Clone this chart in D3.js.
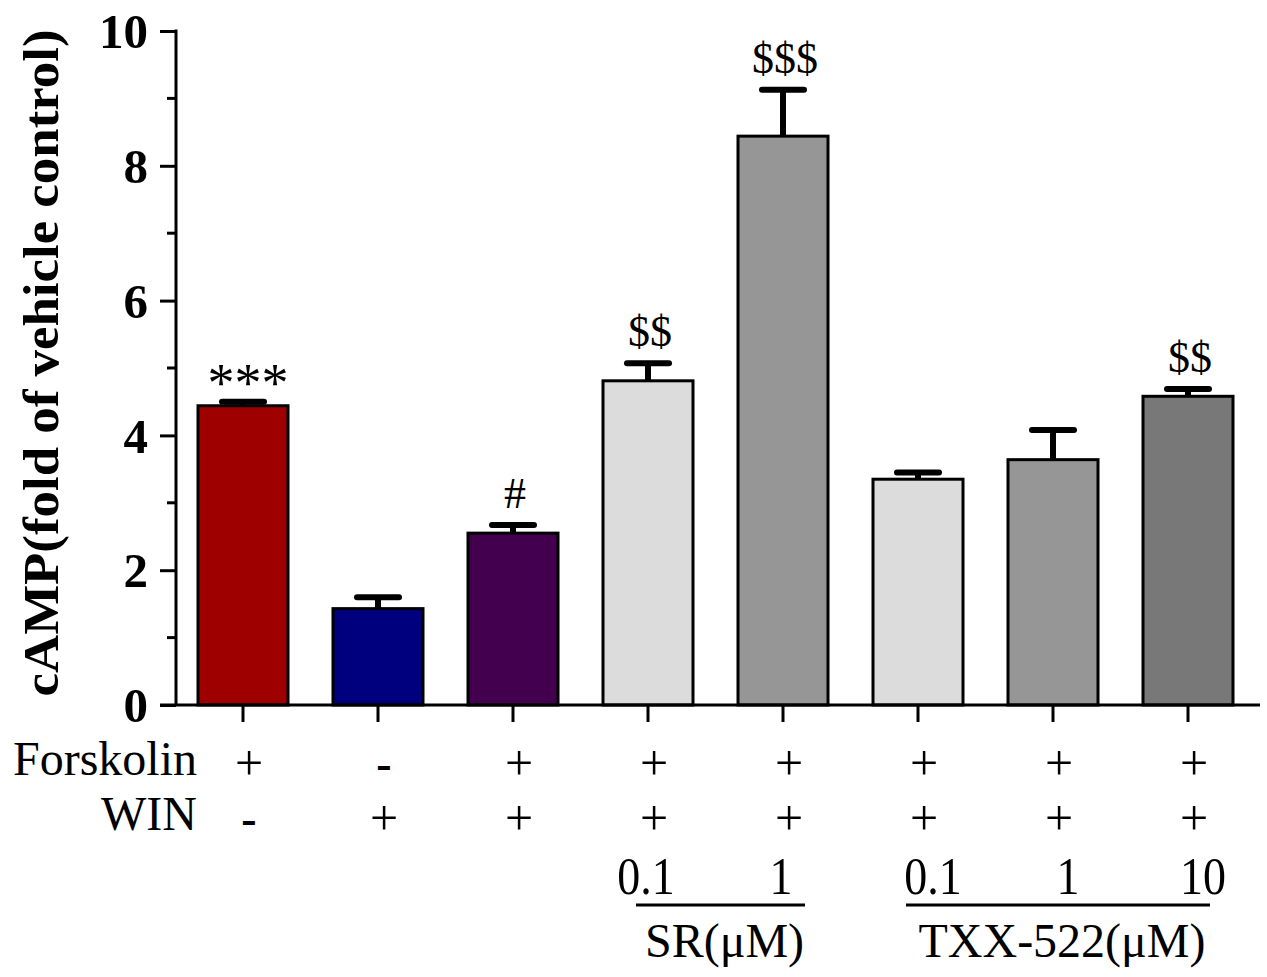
<!DOCTYPE html>
<html>
<head>
<meta charset="utf-8">
<script src="https://cdn.jsdelivr.net/npm/d3@7/dist/d3.min.js"></script>
<style>
html,body{margin:0;padding:0;background:#fff;}
svg{display:block;}
text{font-family:"Liberation Serif","Times New Roman",serif;fill:#000;}
</style>
</head>
<body>
<svg id="chart" width="1267" height="977"></svg>
<script>
// ---- data ----
const categories = ["Forskolin","WIN","Forskolin+WIN","SR 0.1","SR 1","TXX 0.1","TXX 1","TXX 10"];
const means = [4.44, 1.43, 2.55, 4.81, 8.44, 3.35, 3.64, 4.58];
const sems  = [0.06, 0.17, 0.12, 0.26, 0.69, 0.10, 0.44, 0.11];
const colors = ["#9e0000","#00007e","#43004f","#dcdcdc","#969696","#dcdcdc","#969696","#787878"];
const marks = ["***","","#","$$","$$$","","","$$"];
const forskolinRow = ["+","-","+","+","+","+","+","+"];
const winRow = ["-","+","+","+","+","+","+","+"];
const doseRow = ["","","","0.1","1","0.1","1","10"];
const groups = [{label:"SR(\u03BCM)", from:3, to:4},{label:"TXX-522(\u03BCM)", from:5, to:7}];
const yTicks = [0,2,4,6,8,10];
const yLabel = "cAMP(fold of vehicle control)";

// ---- layout ----
const svg = d3.select("#chart");
const x = d3.scaleBand().domain(categories).range([153,1278]).paddingInner(1/3).paddingOuter(1/3);
const y = d3.scaleLinear().domain([0,10]).range([705,31]);
const axisX = 176;
const bw = x.bandwidth();
const cx = c => x(c) + bw/2;
const doseShift = [-2, 15]; // per group nudge of dose labels

// bars
svg.append("g").selectAll("rect").data(categories).join("rect")
  .attr("x", d => x(d)).attr("width", bw)
  .attr("y", (d,i) => y(means[i])).attr("height", (d,i) => y(0) - y(means[i]))
  .attr("fill", (d,i) => colors[i]).attr("stroke","#000").attr("stroke-width",3);

// error bars
const eg = svg.append("g").attr("stroke","#000").attr("stroke-width",6).attr("stroke-linecap","round");
categories.forEach((c,i) => {
  eg.append("line").attr("x1",cx(c)).attr("x2",cx(c)).attr("y1",y(means[i])).attr("y2",y(means[i]+sems[i])).attr("stroke-linecap","butt");
  eg.append("line").attr("x1",cx(c)-21).attr("x2",cx(c)+21).attr("y1",y(means[i]+sems[i])).attr("y2",y(means[i]+sems[i]));
});

// significance marks
categories.forEach((c,i) => {
  if (!marks[i]) return;
  const star = marks[i].startsWith("*");
  svg.append("text").attr("x",cx(c) + (star ? 5 : 2)).attr("y", y(means[i]+sems[i]) - (star ? 1 : 17))
    .attr("text-anchor","middle").attr("font-size", star ? 54 : 44).text(marks[i]);
});

// y axis
const yAxis = d3.axisLeft(y).tickValues(yTicks).tickSize(16).tickPadding(12).tickFormat(d3.format("d"));
const ya = svg.append("g").attr("transform",`translate(${axisX},0)`).call(yAxis);
ya.select(".domain").remove();
ya.selectAll(".tick line").attr("stroke","#000").attr("stroke-width",3);
ya.selectAll(".tick text").attr("font-family","'Liberation Serif',serif").attr("font-weight","bold")
  .attr("font-size",49).attr("fill","#000").attr("dy","0.34em");
// minor ticks
const minor = d3.range(1,10,2);
svg.append("g").selectAll("line").data(minor).join("line")
  .attr("x1",axisX-9).attr("x2",axisX).attr("y1",d=>y(d)).attr("y2",d=>y(d))
  .attr("stroke","#000").attr("stroke-width",3);
svg.append("line").attr("x1",axisX).attr("x2",axisX).attr("y1",y(10)-1.5).attr("y2",y(0))
  .attr("stroke","#000").attr("stroke-width",3);

// x axis
svg.append("line").attr("x1",160).attr("x2",1260).attr("y1",y(0)).attr("y2",y(0))
  .attr("stroke","#000").attr("stroke-width",3);
svg.append("g").selectAll("line").data(categories).join("line")
  .attr("x1",d=>cx(d)).attr("x2",d=>cx(d)).attr("y1",y(0)).attr("y2",y(0)+17)
  .attr("stroke","#000").attr("stroke-width",3);

// y label
svg.append("text").attr("transform","translate(58,363) rotate(-90)")
  .attr("text-anchor","middle").attr("font-weight","bold").attr("font-size",50)
  .attr("textLength",667).attr("lengthAdjust","spacingAndGlyphs").text(yLabel);

// treatment rows
const rows = [{label:"Forskolin", vals:forskolinRow, base:775},{label:"WIN", vals:winRow, base:830}];
rows.forEach(r => {
  svg.append("text").attr("x",197).attr("y",r.base).attr("text-anchor","end").attr("font-size",48).text(r.label);
  categories.forEach((c,i) => {
    const minus = r.vals[i] === "-";
    svg.append("text").attr("x",cx(c)+6).attr("y",r.base + (minus ? 4 : 5))
      .attr("text-anchor","middle").attr("font-size", minus ? 46 : 50)
      .attr("font-weight", minus ? "bold" : "normal").text(r.vals[i]);
  });
});

// doses
categories.forEach((c,i) => {
  if (!doseRow[i]) return;
  const shift = i >= groups[1].from ? doseShift[1] : doseShift[0];
  svg.append("text").attr("transform",`translate(${cx(c)+shift},894) scale(1,1.15)`)
    .attr("text-anchor","middle").attr("font-size",46).text(doseRow[i]);
});

// group underlines + labels
groups.forEach(g => {
  const x1 = cx(categories[g.from]) - 12, x2 = cx(categories[g.to]) + 22;
  svg.append("line").attr("x1",x1).attr("x2",x2).attr("y1",905).attr("y2",905)
    .attr("stroke","#000").attr("stroke-width",3);
  svg.append("text").attr("x",(x1+x2)/2 + 4).attr("y",957).attr("text-anchor","middle")
    .attr("font-size",48).text(g.label);
});
</script>
</body>
</html>
